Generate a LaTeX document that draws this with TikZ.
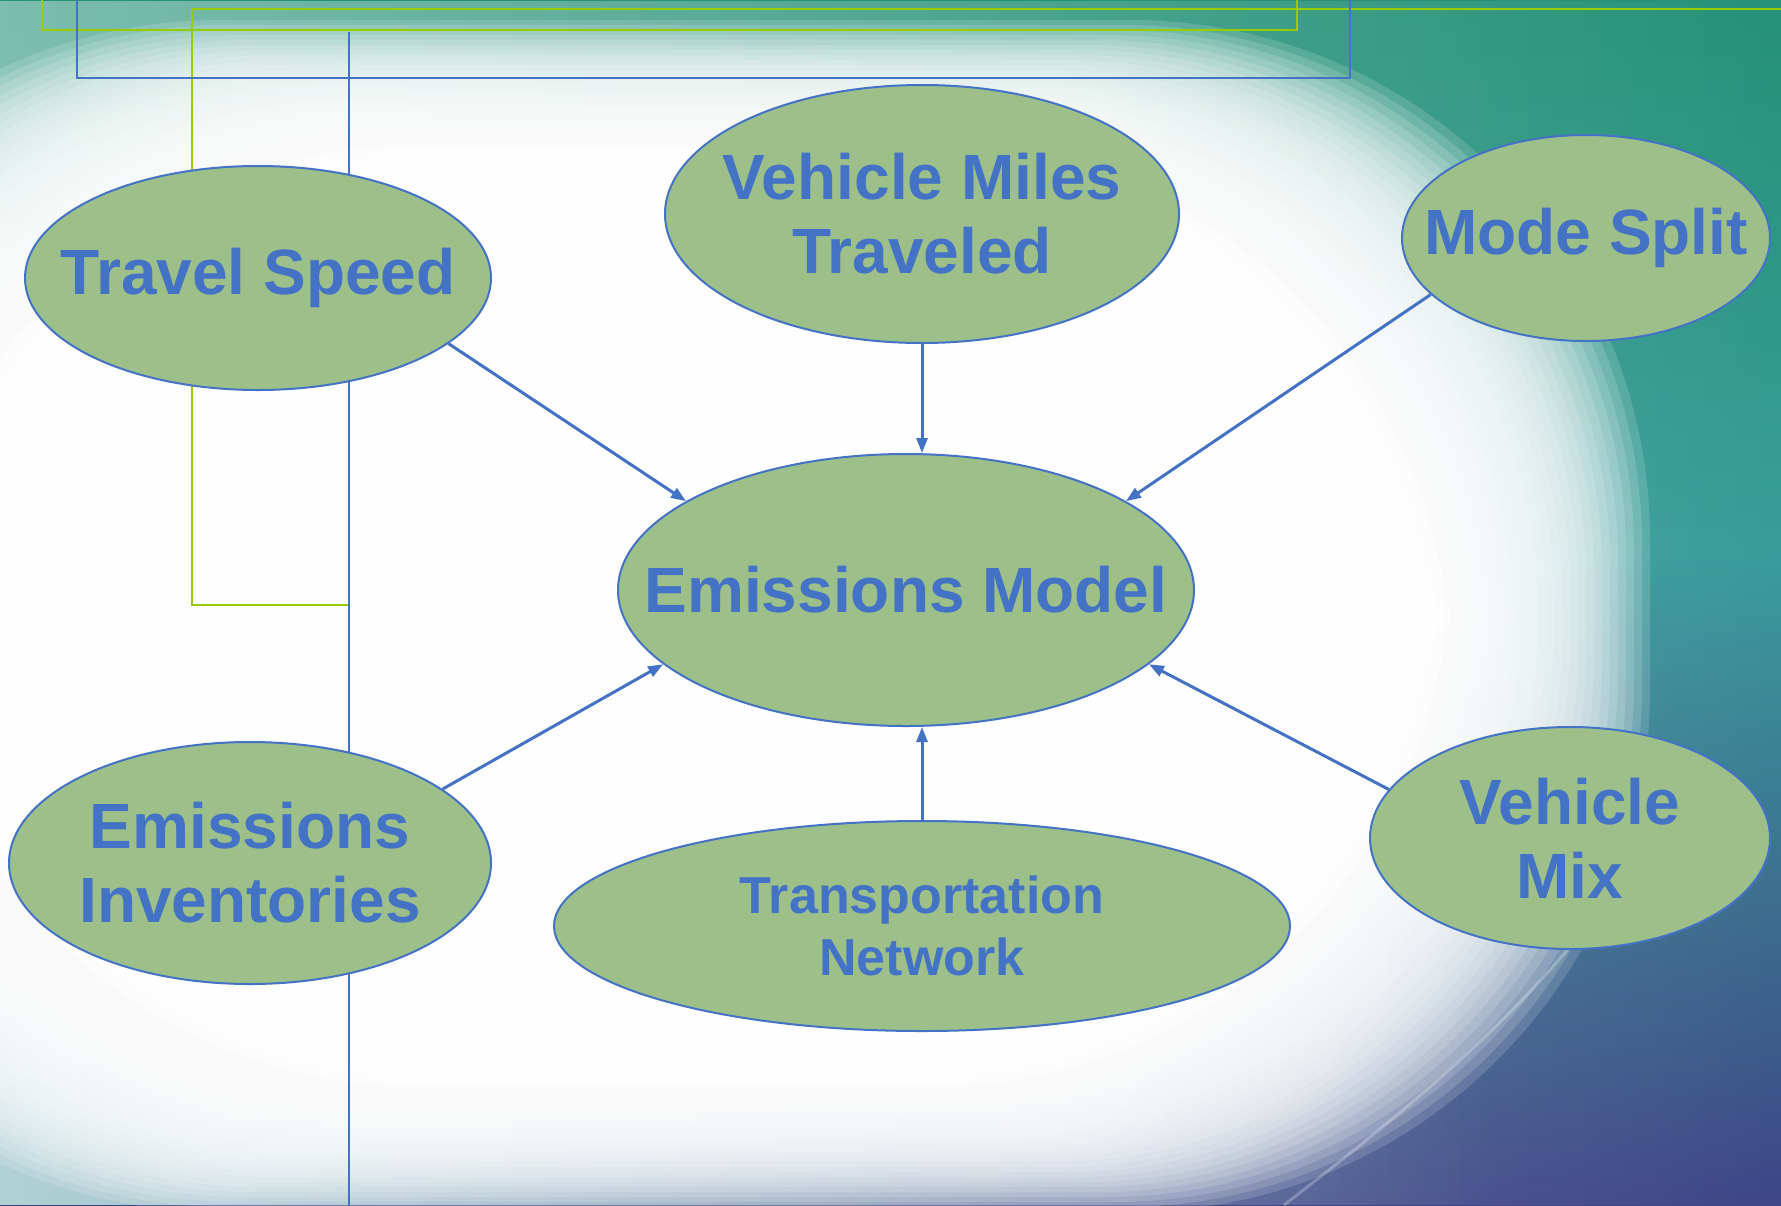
\documentclass[tikz,border=0pt]{standalone}
\usepackage{fontspec}
\setmainfont{Liberation Sans}
\usetikzlibrary{shapes.geometric,arrows.meta,fadings}

\definecolor{bubblefill}{HTML}{9DC08B}
\definecolor{bubbleblue}{HTML}{4472C4}
\definecolor{linegreen}{HTML}{99CC00}
\definecolor{bgtop}{HTML}{0F8650}
\definecolor{bgteal}{HTML}{3A9C9A}
\definecolor{bgblue}{HTML}{3E3C84}
\definecolor{bgbottom}{HTML}{58248E}
\definecolor{bgfloor}{HTML}{7FB4BC}

\pgfdeclareverticalshading{slidebg}{100bp}{color(0bp)=(bgbottom); color(22bp)=(bgblue); color(52bp)=(bgteal); color(100bp)=(bgtop)}

\begin{document}
\begin{tikzpicture}[x=0.5pt, y=-0.5pt,
    bubble/.style={ellipse, draw=bubbleblue, line width=1pt, fill=bubblefill,
      text=bubbleblue, font=\bfseries\fontsize{32}{37}\selectfont,
      align=center, inner sep=-40pt},
    feed/.style={draw=bubbleblue, line width=1.5pt, -{Triangle[length=7.5pt,width=5.5pt]}},
    frame/.style={line width=1pt}]
  \useasboundingbox (0,0) rectangle (1781,1205);

  % Background
  \shade[shading=slidebg] (0,0) rectangle (1781,1205);
  \fill[bgfloor, path fading=east] (0,900) rectangle (1500,1205);
  \fill[white, opacity=0.4, path fading=east] (0,0) rectangle (1781,1205);
  \foreach \i [evaluate=\i as \op using {ifthenelse(\i<25,0.15,0.5)}] in {0,...,29}
    \fill[white, opacity=\op, rounded corners=260pt]
      (-300+8*\i, 20+5*\i) rectangle (1650-8*\i, 1212-5*\i);
  \draw[white, opacity=0.25, line width=1.5pt] (1284,1205) .. controls (1420,1100) and (1540,1000) .. (1620,880);

  % Frame lines
  \draw[linegreen, frame] (42,-5) |- (1297,30) -- (1297,-5);
  \draw[linegreen, frame] (1786,9) -| (192,605) -- (349,605);
  \draw[bubbleblue, frame] (77,-5) |- (1350,78) -- (1350,-5);
  \draw[bubbleblue, frame] (349,32) -- (349,1210);

  % Bubbles
  \node[bubble, minimum width=233pt, minimum height=112pt] (speed) at (258,278) {Travel Speed};
  \node[bubble, minimum width=257pt, minimum height=129pt] (vmt) at (922,214) {Vehicle Miles\\Traveled};
  \node[bubble, minimum width=184pt, minimum height=103pt] (mode) at (1586,238) {Mode Split};
  \node[bubble, minimum width=288pt, minimum height=136pt] (model) at (906,590) {Emissions Model};
  \node[bubble, minimum width=241pt, minimum height=121pt] (inventory) at (250,863) {Emissions\\Inventories};
  \node[bubble, minimum width=368pt, minimum height=105pt,
    font=\bfseries\fontsize{26}{31}\selectfont] (network) at (922,926) {Transportation\\Network};
  \node[bubble, minimum width=200pt, minimum height=111pt] (mix) at (1570,838) {Vehicle\\Mix};

  % Arrows
  \draw[feed] (speed.-19) -- (model.158);
  \draw[feed] (vmt.south) -- (vmt.south |- model.north);
  \draw[feed] (mode.200) -- (model.22);
  \draw[feed] (inventory.21) -- (model.197);
  \draw[feed] (network.north) -- (network.north |- model.south);
  \draw[feed] (mix.165) -- (model.-17);
\end{tikzpicture}
\end{document}
